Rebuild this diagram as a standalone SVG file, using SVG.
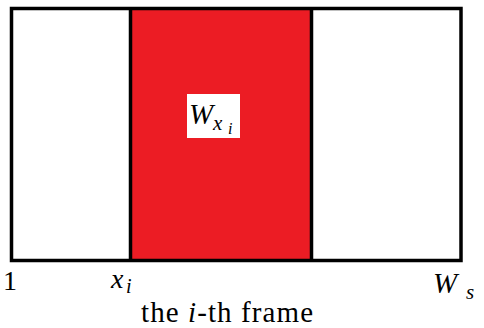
<svg xmlns="http://www.w3.org/2000/svg" width="484" height="328" viewBox="0 0 484 328">
<style>
.tx{font-family:"Liberation Serif","Times New Roman","DejaVu Serif",serif;fill:#000;}
.m{font-style:italic;}
.ln{stroke:#000;stroke-width:3.5;fill:none;}
</style>
<rect width="484" height="328" fill="#fff"/>
<g id="frame-left">
<rect x="11.5" y="8.5" width="119" height="252" fill="#fff"/>
</g>
<g id="window">
<rect x="130.5" y="8.5" width="181" height="252" fill="#ec1c24"/>
<rect x="187" y="94" width="53" height="44" fill="#fff"/>
<text class="tx m" font-family="Liberation Serif, serif" x="189" y="124" font-size="29">W</text>
<text class="tx m" font-family="Liberation Serif, serif" x="213" y="130" font-size="21">x</text>
<text class="tx m" font-family="Liberation Serif, serif" x="228" y="134" font-size="16">i</text>
</g>
<g id="frame-right">
<rect x="311.5" y="8.5" width="149.5" height="252" fill="#fff"/>
</g>
<g id="connectors">
<rect class="ln" x="11.5" y="8.5" width="449.5" height="252"/>
<line class="ln" x1="130.5" y1="8.5" x2="130.5" y2="260.5"/>
<line class="ln" x1="311.5" y1="8.5" x2="311.5" y2="262"/>
</g>
<g id="labels">
<text class="tx" font-family="Liberation Serif, serif" x="3" y="290" font-size="28">1</text>
<text class="tx m" font-family="Liberation Serif, serif" x="111" y="288" font-size="28">x</text>
<text class="tx m" font-family="Liberation Serif, serif" x="126" y="293" font-size="20">i</text>
<text class="tx m" font-family="Liberation Serif, serif" x="433" y="293" font-size="29">W</text>
<text class="tx m" font-family="Liberation Serif, serif" x="466" y="299" font-size="21">s</text>
<text class="tx" font-family="Liberation Serif, serif" x="141" y="322" font-size="29" textLength="172" lengthAdjust="spacing">the <tspan class="m">i</tspan>-th frame</text>
</g>
</svg>
